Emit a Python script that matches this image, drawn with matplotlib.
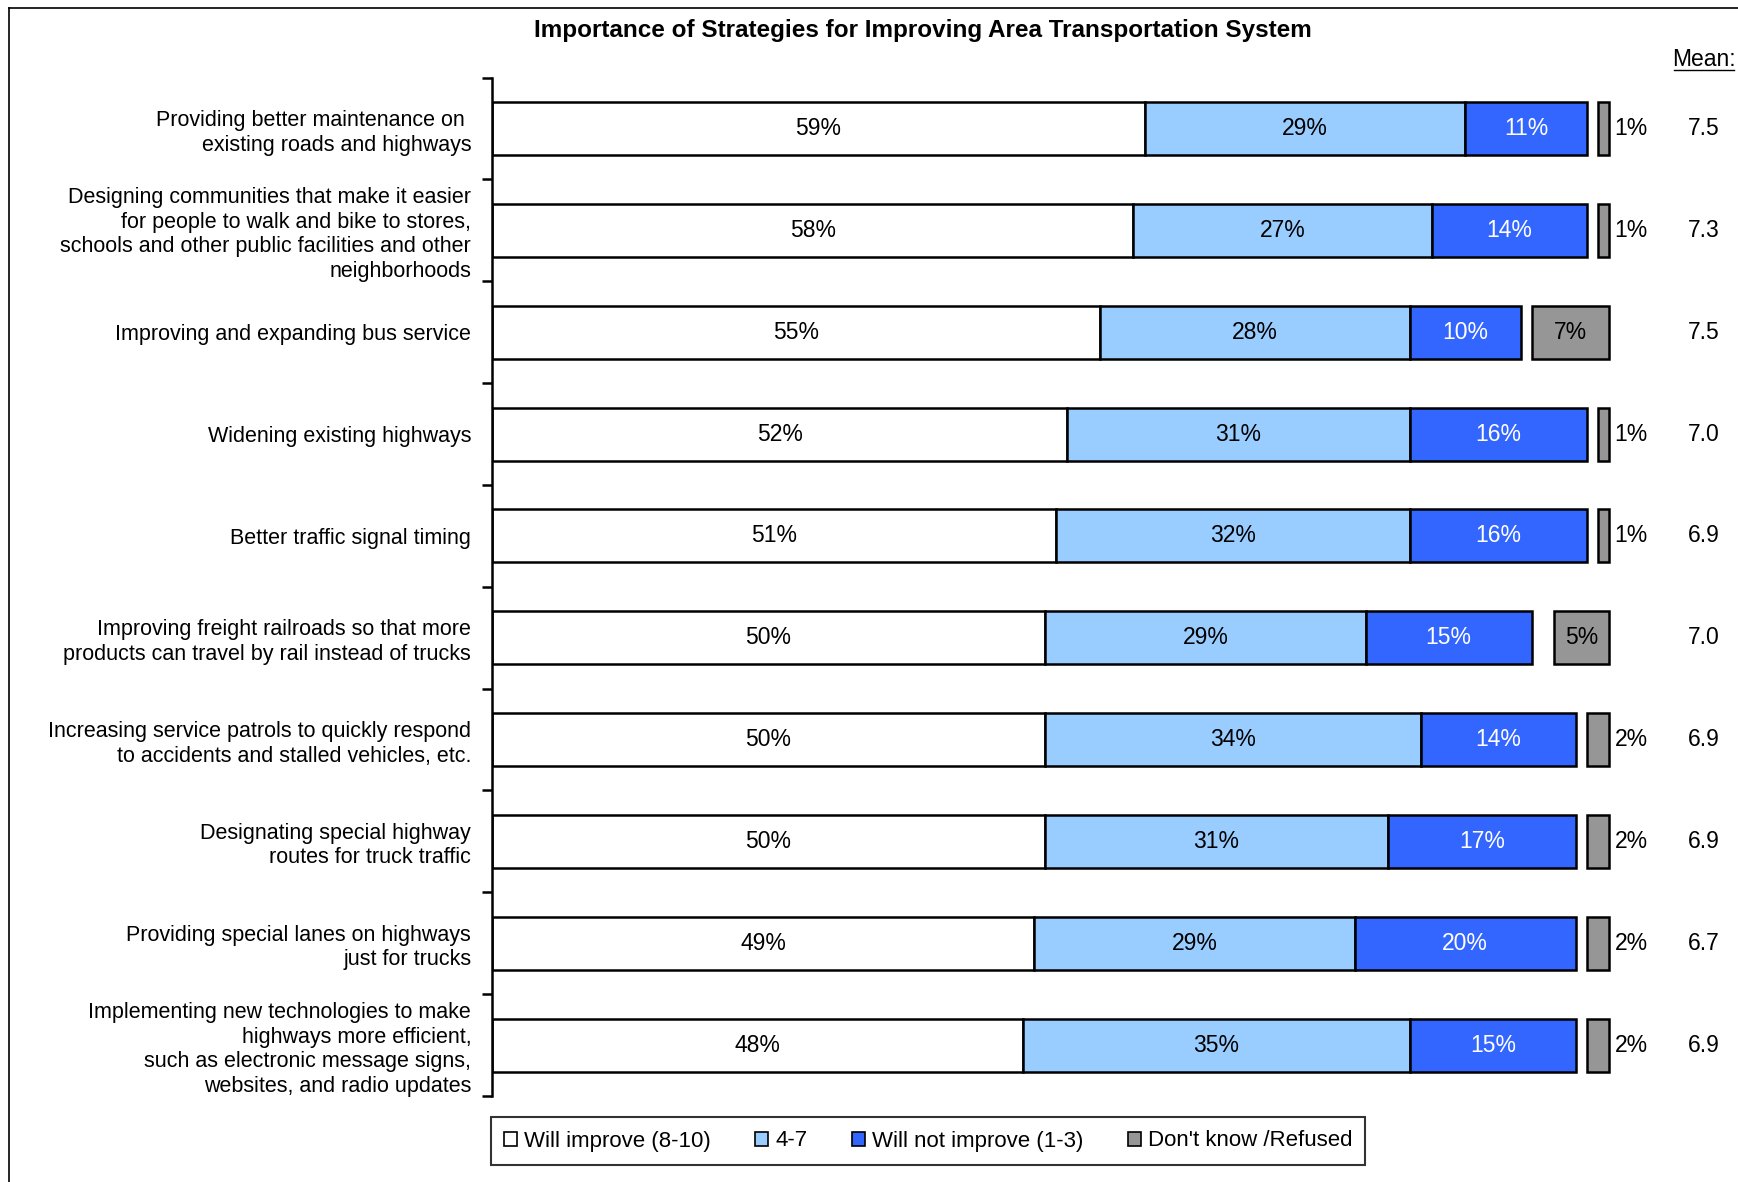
import matplotlib.pyplot as plt
from matplotlib.patches import Patch
from matplotlib.lines import Line2D
import numpy as np

plt.rcParams['font.family'] = ['Liberation Sans', 'DejaVu Sans']

# Données
categories = [
    "Providing better maintenance on \nexisting roads and highways",
    "Designing communities that make it easier\nfor people to walk and bike to stores,\nschools and other public facilities and other\nneighborhoods",
    "Improving and expanding bus service",
    "Widening existing highways",
    "Better traffic signal timing",
    "Improving freight railroads so that more\nproducts can travel by rail instead of trucks",
    "Increasing service patrols to quickly respond\nto accidents and stalled vehicles, etc.",
    "Designating special highway\nroutes for truck traffic",
    "Providing special lanes on highways\njust for trucks",
    "Implementing new technologies to make\nhighways more efficient,\nsuch as electronic message signs,\nwebsites, and radio updates",
]
will_improve = [59, 58, 55, 52, 51, 50, 50, 50, 49, 48]
mid_range = [29, 27, 28, 31, 32, 29, 34, 31, 29, 35]
not_improve = [11, 14, 10, 16, 16, 15, 14, 17, 20, 15]
dont_know = [1, 1, 7, 1, 1, 5, 2, 2, 2, 2]
means = [7.5, 7.3, 7.5, 7.0, 6.9, 7.0, 6.9, 6.9, 6.7, 6.9]
legend_labels = ['Will improve (8-10)', '4-7', 'Will not improve (1-3)', "Don't know /Refused"]

colors = ['white', '#99CCFF', '#3366FF', '#969696']
text_colors = ['black', 'black', 'white']
fs = 16.5

fig = plt.figure(figsize=(17.38, 11.82), dpi=100)
ax = fig.add_axes([0.2831, 0.0728, 1 - 0.2831, 0.9343 - 0.0728])

y = np.arange(len(categories))
h = 0.52
end = 101

left = np.zeros(len(categories))
for vals, col, tc in zip([will_improve, mid_range, not_improve], colors[:3], text_colors):
    vals = np.array(vals, dtype=float)
    ax.barh(y, vals, left=left, height=h, color=col, edgecolor='black', linewidth=1.8)
    for i, v in enumerate(vals):
        ax.text(left[i] + v / 2, y[i], f"{int(v)}%", ha='center', va='center',
                fontsize=fs, color=tc)
    left += vals

# Barres "Don't know" alignées à droite
dk = np.array(dont_know, dtype=float)
ax.barh(y, dk, left=end - dk, height=h, color=colors[3], edgecolor='black', linewidth=1.8)
for i, v in enumerate(dk):
    if v >= 5:
        ax.text(end - v / 2, y[i], f"{int(v)}%", ha='center', va='center', fontsize=fs)
    else:
        ax.text(end + 0.5, y[i], f"{int(v)}%", ha='left', va='center', fontsize=fs)

# Colonne des moyennes
mean_x = 109.6
for i, m in enumerate(means):
    ax.text(mean_x, y[i], f"{m:.1f}", ha='center', va='center', fontsize=fs)
fig.text(1704 / 1738, 1 - 59 / 1182, 'Mean:', ha='center', va='center', fontsize=fs)
fig.add_artist(Line2D([1674 / 1738, 1734 / 1738], [1 - 70 / 1182] * 2, color='black', lw=1))

ax.set_xlim(0, (1738 - 492) / 11.06)
ax.set_ylim(len(categories) - 0.5, -0.5)
ax.set_xticks([])
ax.set_yticks(y)
ax.set_yticklabels(categories, fontsize=15.5, linespacing=1.22)
ax.tick_params(axis='y', which='major', length=0, pad=15)
ax.set_yticks(np.arange(-0.5, len(categories)), minor=True)
ax.tick_params(axis='y', which='minor', length=7, width=1.8, direction='out')
for s in ['top', 'right', 'bottom']:
    ax.spines[s].set_visible(False)
ax.spines['left'].set_linewidth(1.8)

fig.text(923 / 1738, 1 - 30 / 1182, 'Importance of Strategies for Improving Area Transportation System',
         ha='center', va='center', fontsize=17.5, fontweight='bold')

# Cadre
fig.add_artist(Line2D([9 / 1738, 9 / 1738], [0, 1 - 8 / 1182], color='black', lw=1.2))
fig.add_artist(Line2D([9 / 1738, 1], [1 - 8 / 1182] * 2, color='black', lw=1.2))

handles = [Patch(facecolor=c, edgecolor='black', linewidth=1.2) for c in colors]
leg = fig.legend(handles, legend_labels, loc='center', bbox_to_anchor=(928 / 1738, 1 - 1141 / 1182),
                 ncol=4, fontsize=16, frameon=True, fancybox=False, edgecolor='black',
                 handlelength=0.6, handleheight=0.6, handletextpad=0.3, columnspacing=2.0,
                 borderpad=0.6)
leg.get_frame().set_linewidth(1.5)

plt.savefig('out.png', dpi=100)
